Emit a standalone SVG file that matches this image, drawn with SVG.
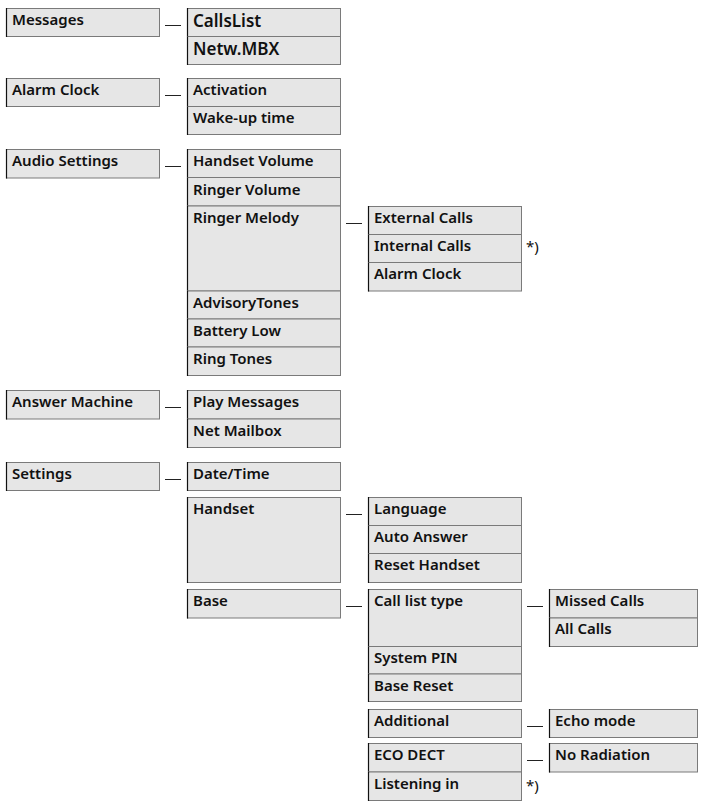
<svg xmlns="http://www.w3.org/2000/svg" width="701" height="805" viewBox="0 0 701 805">
<style>
.b{fill:#e6e6e6;stroke:#7a7a7a;stroke-width:1}
.l{stroke:#111;stroke-width:1.2}
.t{font-family:"Noto Sans","Open Sans",sans-serif;font-weight:600;font-size:15px;fill:#111}
.tb{font-family:"Noto Sans","Open Sans",sans-serif;font-weight:600;font-size:17px;fill:#111}
.n{font-family:"Noto Sans","Open Sans",sans-serif;font-size:15px;fill:#111}
.c{stroke:#222;stroke-width:1}
</style>
<rect width="701" height="805" fill="#fff"/>
<!-- column 1 -->
<g id="messages"><rect class="b" x="6.5" y="8.5" width="153" height="28"/><line class="l" x1="6.5" y1="8" x2="6.5" y2="37"/><text class="t" x="12" y="25">Messages</text></g>
<g id="alarm-clock"><rect class="b" x="6.5" y="78.5" width="153" height="28"/><line class="l" x1="6.5" y1="78" x2="6.5" y2="107"/><text class="t" x="12" y="95">Alarm Clock</text></g>
<g id="audio-settings"><rect class="b" x="6.5" y="149.5" width="153" height="28.5"/><line class="l" x1="6.5" y1="149" x2="6.5" y2="178.5"/><text class="t" x="12" y="166">Audio Settings</text></g>
<g id="answer-machine"><rect class="b" x="6.5" y="390.5" width="153" height="28.5"/><line class="l" x1="6.5" y1="390" x2="6.5" y2="419.5"/><text class="t" x="12" y="407">Answer Machine</text></g>
<g id="settings"><rect class="b" x="6.5" y="462.5" width="153" height="28"/><line class="l" x1="6.5" y1="462" x2="6.5" y2="491"/><text class="t" x="12" y="479">Settings</text></g>
<!-- column 2 -->
<g id="callslist"><rect class="b" x="187.5" y="8.5" width="153" height="28"/><line class="l" x1="187.5" y1="8" x2="187.5" y2="36.5"/><text class="tb" x="193" y="26.5">CallsList</text></g>
<g id="netw-mbx"><rect class="b" x="187.5" y="36.5" width="153" height="28"/><line class="l" x1="187.5" y1="36.5" x2="187.5" y2="65"/><text class="tb" x="193" y="55">Netw.MBX</text></g>
<g id="activation"><rect class="b" x="187.5" y="78.5" width="153" height="28"/><line class="l" x1="187.5" y1="78" x2="187.5" y2="106.5"/><text class="t" x="193" y="95">Activation</text></g>
<g id="wake-up-time"><rect class="b" x="187.5" y="106.5" width="153" height="28"/><line class="l" x1="187.5" y1="106.5" x2="187.5" y2="135"/><text class="t" x="193" y="123">Wake-up time</text></g>
<g id="handset-volume"><rect class="b" x="187.5" y="149.5" width="153" height="28"/><line class="l" x1="187.5" y1="149" x2="187.5" y2="177.5"/><text class="t" x="193" y="166">Handset Volume</text></g>
<g id="ringer-volume"><rect class="b" x="187.5" y="177.5" width="153" height="28.5"/><line class="l" x1="187.5" y1="177.5" x2="187.5" y2="206"/><text class="t" x="193" y="195">Ringer Volume</text></g>
<g id="ringer-melody"><rect class="b" x="187.5" y="206" width="153" height="85"/><line class="l" x1="187.5" y1="206" x2="187.5" y2="291"/><text class="t" x="193" y="223">Ringer Melody</text></g>
<g id="advisorytones"><rect class="b" x="187.5" y="291" width="153" height="28"/><line class="l" x1="187.5" y1="291" x2="187.5" y2="319"/><text class="t" x="193" y="308">AdvisoryTones</text></g>
<g id="battery-low"><rect class="b" x="187.5" y="319" width="153" height="28"/><line class="l" x1="187.5" y1="319" x2="187.5" y2="347"/><text class="t" x="193" y="336">Battery Low</text></g>
<g id="ring-tones"><rect class="b" x="187.5" y="347" width="153" height="28.5"/><line class="l" x1="187.5" y1="347" x2="187.5" y2="376"/><text class="t" x="193" y="364">Ring Tones</text></g>
<g id="play-messages"><rect class="b" x="187.5" y="390.5" width="153" height="28.5"/><line class="l" x1="187.5" y1="390" x2="187.5" y2="419"/><text class="t" x="193" y="407">Play Messages</text></g>
<g id="net-mailbox"><rect class="b" x="187.5" y="419" width="153" height="28.5"/><line class="l" x1="187.5" y1="419" x2="187.5" y2="448"/><text class="t" x="193" y="436">Net Mailbox</text></g>
<g id="date-time"><rect class="b" x="187.5" y="462.5" width="153" height="28"/><line class="l" x1="187.5" y1="462" x2="187.5" y2="491"/><text class="t" x="193" y="479">Date/Time</text></g>
<g id="handset"><rect class="b" x="187.5" y="497.5" width="153" height="85"/><line class="l" x1="187.5" y1="497" x2="187.5" y2="583"/><text class="t" x="193" y="514">Handset</text></g>
<g id="base"><rect class="b" x="187.5" y="589.5" width="153" height="28.5"/><line class="l" x1="187.5" y1="589" x2="187.5" y2="618.5"/><text class="t" x="193" y="606">Base</text></g>
<!-- column 3 -->
<g id="external-calls"><rect class="b" x="368.5" y="206.5" width="153" height="28"/><line class="l" x1="368.5" y1="206" x2="368.5" y2="234.5"/><text class="t" x="374" y="223">External Calls</text></g>
<g id="internal-calls"><rect class="b" x="368.5" y="234.5" width="153" height="28"/><line class="l" x1="368.5" y1="234.5" x2="368.5" y2="262.5"/><text class="t" x="374" y="251">Internal Calls</text></g>
<g id="alarm-clock-2"><rect class="b" x="368.5" y="262.5" width="153" height="28.5"/><line class="l" x1="368.5" y1="262.5" x2="368.5" y2="291.5"/><text class="t" x="374" y="279">Alarm Clock</text></g>
<g id="language"><rect class="b" x="368.5" y="497.5" width="153" height="28"/><line class="l" x1="368.5" y1="497" x2="368.5" y2="525.5"/><text class="t" x="374" y="514">Language</text></g>
<g id="auto-answer"><rect class="b" x="368.5" y="525.5" width="153" height="28"/><line class="l" x1="368.5" y1="525.5" x2="368.5" y2="553.5"/><text class="t" x="374" y="542">Auto Answer</text></g>
<g id="reset-handset"><rect class="b" x="368.5" y="553.5" width="153" height="29"/><line class="l" x1="368.5" y1="553.5" x2="368.5" y2="583"/><text class="t" x="374" y="570">Reset Handset</text></g>
<g id="call-list-type"><rect class="b" x="368.5" y="589.5" width="153" height="57"/><line class="l" x1="368.5" y1="589" x2="368.5" y2="646.5"/><text class="t" x="374" y="606">Call list type</text></g>
<g id="system-pin"><rect class="b" x="368.5" y="646.5" width="153" height="27.5"/><line class="l" x1="368.5" y1="646.5" x2="368.5" y2="674"/><text class="t" x="374" y="663">System PIN</text></g>
<g id="base-reset"><rect class="b" x="368.5" y="674" width="153" height="27.5"/><line class="l" x1="368.5" y1="674" x2="368.5" y2="702"/><text class="t" x="374" y="691">Base Reset</text></g>
<g id="additional"><rect class="b" x="368.5" y="709.5" width="153" height="28"/><line class="l" x1="368.5" y1="709" x2="368.5" y2="738"/><text class="t" x="374" y="726">Additional</text></g>
<g id="eco-dect"><rect class="b" x="368.5" y="743.5" width="153" height="28.5"/><line class="l" x1="368.5" y1="743" x2="368.5" y2="772"/><text class="t" x="374" y="760">ECO DECT</text></g>
<g id="listening-in"><rect class="b" x="368.5" y="772" width="153" height="28.5"/><line class="l" x1="368.5" y1="772" x2="368.5" y2="801"/><text class="t" x="374" y="789">Listening in</text></g>
<!-- column 4 -->
<g id="missed-calls"><rect class="b" x="549.5" y="589.5" width="148" height="28.5"/><line class="l" x1="549.5" y1="589" x2="549.5" y2="618"/><text class="t" x="555" y="606">Missed Calls</text></g>
<g id="all-calls"><rect class="b" x="549.5" y="618" width="148" height="28.5"/><line class="l" x1="549.5" y1="618" x2="549.5" y2="647"/><text class="t" x="555" y="634">All Calls</text></g>
<g id="echo-mode"><rect class="b" x="549.5" y="709.5" width="148" height="28"/><line class="l" x1="549.5" y1="709" x2="549.5" y2="738"/><text class="t" x="555" y="726">Echo mode</text></g>
<g id="no-radiation"><rect class="b" x="549.5" y="743.5" width="148" height="28.5"/><line class="l" x1="549.5" y1="743" x2="549.5" y2="772.5"/><text class="t" x="555" y="760">No Radiation</text></g>
<!-- notes -->
<g id="notes">
<text class="n" x="526" y="252">*)</text>
<text class="n" x="526" y="791">*)</text>
</g>
<!-- connectors -->
<g id="connectors">
<line class="c" x1="165" y1="25.5" x2="181" y2="25.5"/>
<line class="c" x1="165" y1="95.5" x2="181" y2="95.5"/>
<line class="c" x1="165" y1="166.5" x2="181" y2="166.5"/>
<line class="c" x1="165" y1="407.5" x2="181" y2="407.5"/>
<line class="c" x1="165" y1="479.5" x2="181" y2="479.5"/>
<line class="c" x1="346" y1="223.5" x2="362" y2="223.5"/>
<line class="c" x1="346" y1="514.5" x2="362" y2="514.5"/>
<line class="c" x1="346" y1="606.5" x2="362" y2="606.5"/>
<line class="c" x1="527" y1="606.5" x2="543" y2="606.5"/>
<line class="c" x1="527" y1="726.5" x2="543" y2="726.5"/>
<line class="c" x1="527" y1="760.5" x2="543" y2="760.5"/>
</g>
</svg>
